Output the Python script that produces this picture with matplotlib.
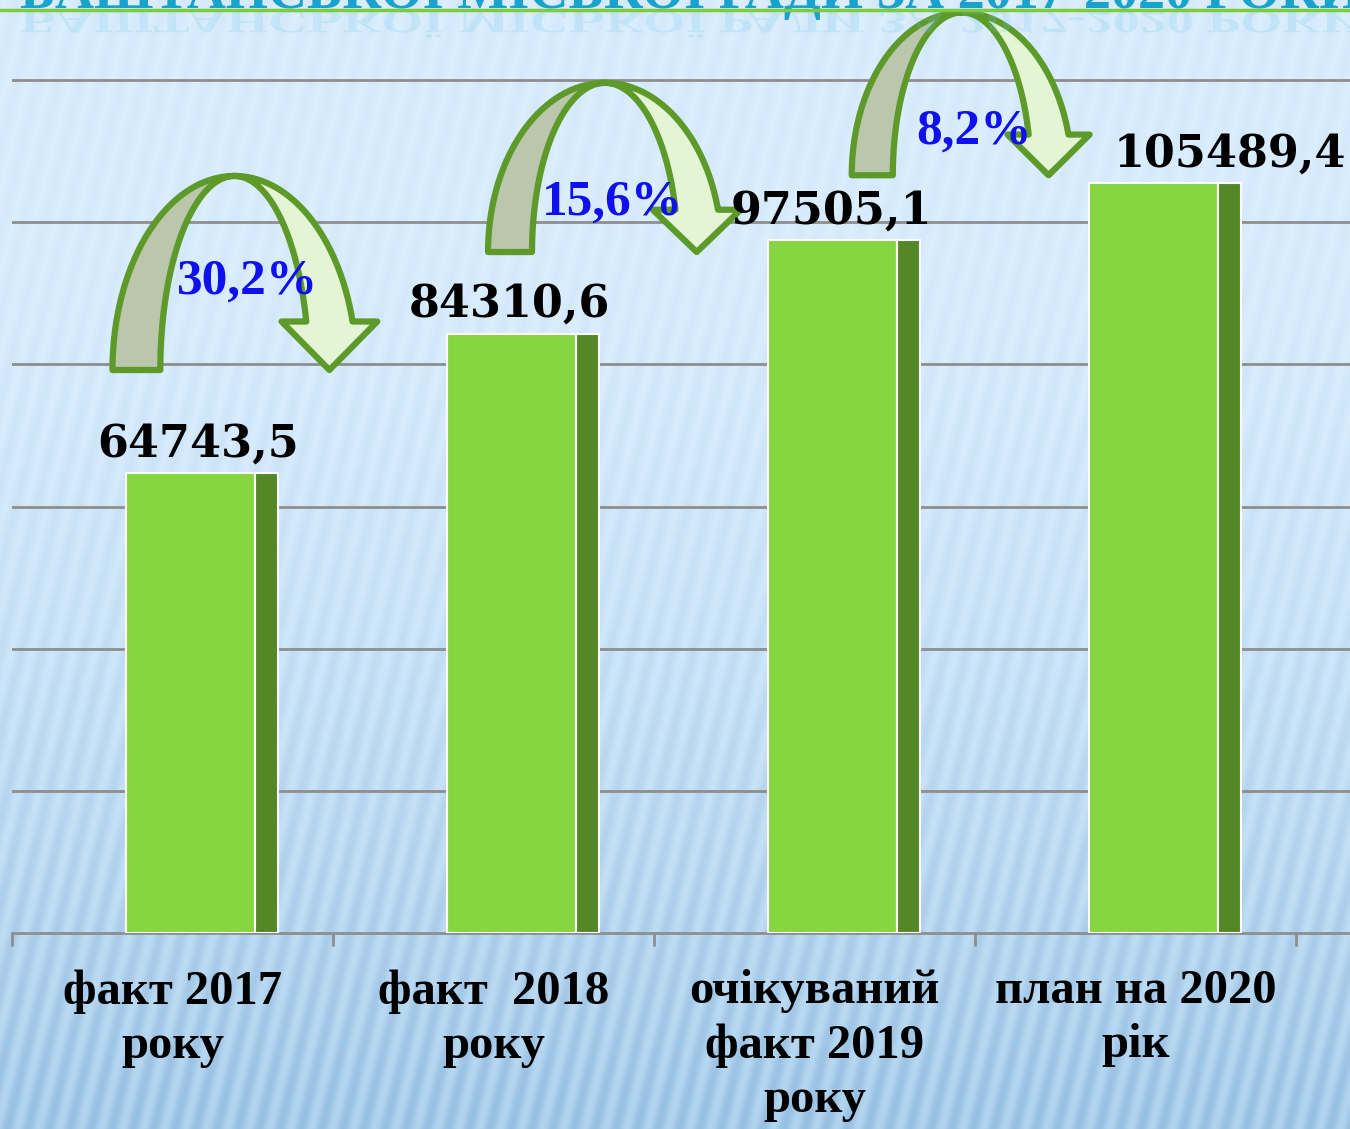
import numpy as np
import matplotlib
matplotlib.use("Agg")
import matplotlib.pyplot as plt
from matplotlib.patches import Polygon, PathPatch
from matplotlib.textpath import TextPath
from matplotlib.font_manager import FontProperties
from matplotlib.transforms import Affine2D
from matplotlib.lines import Line2D

# ---------------- data ----------------
categories = ["факт 2017\nроку", "факт  2018\nроку",
              "очікуваний\nфакт 2019\nроку", "план на 2020\nрік"]
values = [64743.5, 84310.6, 97505.1, 105489.4]
value_labels = ["64743,5", "84310,6", "97505,1", "105489,4"]
growth_labels = ["30,2%", "15,6%", "8,2%"]
title = "БАШТАНСЬКОЇ МІСЬКОЇ РАДИ ЗА 2017-2020 РОКИ"
grid_values = [20000, 40000, 60000, 80000, 100000, 120000]

# ---------------- layout ----------------
W, H = 1350, 1129
label_x = [0.081, 1.051, 2.051, 3.294]
growth_x = [0.235, 1.369, 2.497]
growth_y = [90000, 101000, 111100]
arrow_cx = [0.193, 1.347, 2.459]
arrow_base = [79200, 95800, 106600]
arrow_h = [27300, 23800, 22900]
arrow_ro = [0.380, 0.364, 0.343]
arrow_ri = [0.231, 0.227, 0.215]

SERIF = "Liberation Serif"
VALSERIF = "DejaVu Serif"

fig = plt.figure(figsize=(W / 100, H / 100), dpi=100)

# background with soft diagonal stripes
bg = fig.add_axes([0, 0, 1, 1], zorder=-10)
yy, xx = np.mgrid[0:H, 0:W]
t = yy / H
top = np.array([0.845, 0.925, 0.99])
bot = np.array([0.64, 0.79, 0.91])
w = np.clip((t - 0.2) / 0.8, 0, 1) ** 1.6
base = top[None, None, :] * (1 - w[..., None]) + bot[None, None, :] * w[..., None]
stripe = np.sin(2 * np.pi * (xx + 0.25 * yy) / 21.0)
amp = 0.012 + 0.04 * w
img = base + (amp * stripe)[..., None] * np.array([1.0, 0.8, 0.5])
img = np.clip(img, 0, 1)
bg.imshow(img, aspect="auto", extent=[0, 1, 0, 1], origin="upper",
          interpolation="bilinear")
bg.axis("off")

# main axes
ax = fig.add_axes([12 / W, (H - 933) / H, (W - 12) / W, 933 / H])
ax.patch.set_alpha(0)
ax.set_xlim(-0.5, -0.5 + (W - 12) / 321)
ax.set_ylim(0, 120000 * 933 / 853)
for v in grid_values:
    ax.axhline(v, color="#8e8e8e", lw=2, zorder=1)
for s in ["top", "right", "left"]:
    ax.spines[s].set_visible(False)
ax.spines["bottom"].set_color("#8e8e8e")
ax.spines["bottom"].set_linewidth(2)
ax.set_yticks([])

n = len(categories)
ax.set_xticks(np.arange(n + 1) - 0.5)
ax.set_xticklabels([])
ax.tick_params(axis="x", which="major", length=9, width=2,
               color="#8e8e8e", direction="out")
ax.set_xticks(np.arange(n), minor=True)
ax.set_xticklabels(categories, minor=True, fontsize=35, family=SERIF,
                   weight="bold", linespacing=1.3)
ax.tick_params(axis="x", which="minor", length=0, pad=26)

# bars (front face + dark side)
x = np.arange(n)
ax.bar(x - 0.145, values, width=0.402, align="edge", color="#86d641",
       edgecolor="white", linewidth=1.5, zorder=3)
ax.bar(x + 0.257, values, width=0.072, align="edge", color="#548827",
       edgecolor="white", linewidth=1.5, zorder=3)

# value labels
for xi, v, s in zip(label_x, values, value_labels):
    ax.annotate(s, xy=(xi, v), xytext=(0, 12), textcoords="offset points",
                ha="center", va="baseline", fontsize=32, family=VALSERIF,
                weight="bold", color="black", zorder=6,
                annotation_clip=False)


# curved arrows
def curved_arrow(cx, y0, h, ro, ri, head_frac=0.25):
    m = 80
    t_end = np.arcsin(head_frac)
    tl = np.linspace(np.pi, np.pi / 2, m)
    outer_left = np.c_[cx + ro * np.cos(tl), y0 + h * np.sin(tl)]
    inner_left = np.c_[cx + ri * np.cos(tl[::-1]), y0 + h * np.sin(tl[::-1])]
    left_poly = np.vstack([outer_left, inner_left])
    tr = np.linspace(np.pi / 2, t_end, m)
    outer_right = np.c_[cx + ro * np.cos(tr), y0 + h * np.sin(tr)]
    inner_right = np.c_[cx + ri * np.cos(tr[::-1]), y0 + h * np.sin(tr[::-1])]
    xi_end = cx + ri * np.cos(t_end)
    xo_end = cx + ro * np.cos(t_end)
    mid = (xi_end + xo_end) / 2
    hw = ro - ri
    yb = y0 + h * head_frac
    head = np.array([(mid + hw, yb), (mid, y0), (mid - hw, yb)])
    right_poly = np.vstack([outer_right, head, inner_right])
    ax.add_patch(Polygon(left_poly, closed=True, facecolor="#bbc7ad",
                         edgecolor="#5e9a2a", lw=4.5, zorder=4,
                         joinstyle="round", clip_on=False))
    ax.add_patch(Polygon(right_poly, closed=True, facecolor="#e3f5d5",
                         edgecolor="#5e9a2a", lw=4.5, zorder=4,
                         joinstyle="round", clip_on=False))


for i in range(len(growth_labels)):
    curved_arrow(arrow_cx[i], arrow_base[i], arrow_h[i], arrow_ro[i], arrow_ri[i])

for gx, gy, s in zip(growth_x, growth_y, growth_labels):
    ax.text(gx, gy, s, ha="center", va="baseline", fontsize=37, family=SERIF,
            weight="bold", color="#1010ee", zorder=7)

# title (cut off at the top, as in the source) with reflection and green line
fs_title = 39
fig.text(20 / W, 1 - 8 / H, title, ha="left", va="baseline",
         fontsize=fs_title, family=SERIF, weight="bold", color="#1aa2cc",
         zorder=5)
fp = FontProperties(family=SERIF, weight="bold")
tp = TextPath((0, 0), title, size=fs_title * 100 / 72, prop=fp)
refl = PathPatch(tp, transform=Affine2D().scale(1, -0.6).translate(20, H - 11),
                 facecolor="#6cc8e6", edgecolor="none", alpha=0.2, zorder=4)
fig.add_artist(refl)
fig.add_artist(Line2D([0, 1], [1 - 9.5 / H] * 2, transform=fig.transFigure,
                      color="#7ccc3c", lw=2.5, zorder=6))

fig.savefig("out.png", dpi=100)
